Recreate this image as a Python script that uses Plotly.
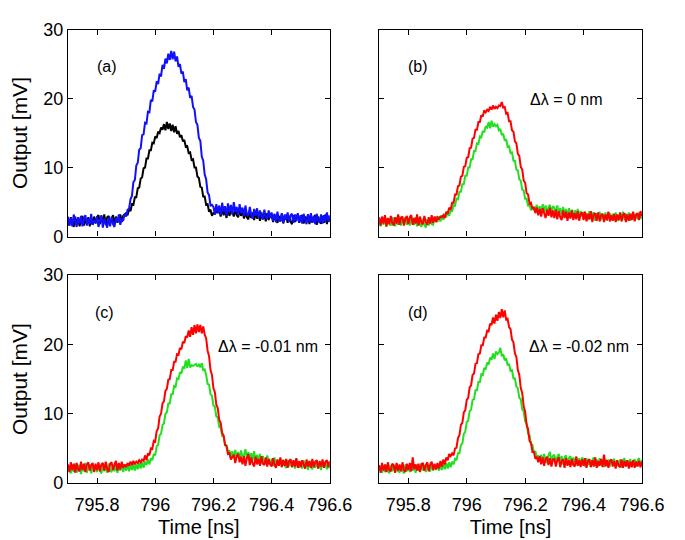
import numpy as np
import plotly.graph_objects as go

# Sampling of the time axis (ns), 0.005 ns steps from 795.7 to 796.6
time_ns = np.round(np.linspace(795.7, 796.6, 181), 3)

# Panel (a)
a_blue = [
    2.9,1.6,2.7,1.5,3.2,2.0,1.4,2.8,1.9,3.0,1.5,2.5,3.1,1.6,2.6,1.8,3.3,1.7,2.4,2.0,
    2.9,1.4,2.4,3.1,1.3,2.6,1.9,1.3,2.8,1.5,2.9,1.8,1.4,2.7,2.1,3.2,1.7,2.6,2.3,3.3,
    2.9,3.9,4.0,5.4,5.9,7.9,8.2,10.3,10.7,12.6,12.8,14.7,14.8,16.5,16.4,18.1,18.0,19.8,19.6,21.2,
    21.0,22.5,22.1,23.6,23.2,24.9,24.3,25.8,25.1,26.5,25.6,26.9,25.7,26.8,25.4,26.1,24.6,25.0,23.6,23.9,
    22.4,22.8,21.2,21.6,20.1,20.4,18.8,18.4,16.6,16.2,14.3,13.9,11.6,11.0,9.0,8.3,6.4,6.0,4.5,4.6,
    4.3,3.2,4.7,3.4,4.5,3.1,4.9,3.6,4.4,3.0,4.8,3.5,4.6,3.2,5.0,3.6,4.3,3.1,4.7,3.4,
    4.2,3.0,4.5,3.2,3.0,4.3,3.1,2.6,4.0,3.0,4.1,2.7,3.8,2.9,2.5,3.9,2.8,2.6,3.8,2.7,
    3.5,2.3,3.3,2.1,3.6,2.5,2.2,3.4,2.0,3.2,2.4,3.5,2.1,3.1,3.3,2.0,3.2,2.2,3.4,2.1,
    3.1,1.9,3.3,2.3,1.8,3.2,2.1,3.4,2.0,3.0,1.8,3.3,2.3,2.0,3.2,1.9,3.1,2.1,3.5,2.2,3.1,
]
a_black = [
    2.5,1.6,2.8,1.9,1.4,2.9,1.7,2.7,1.5,2.5,3.0,1.6,2.6,1.8,2.8,1.5,2.7,1.7,2.9,1.9,
    2.8,3.1,1.8,2.9,2.0,3.2,1.7,2.8,3.0,1.9,2.7,3.1,1.8,2.9,2.0,2.8,3.2,2.1,3.0,3.2,
    3.4,3.1,4.0,3.7,4.7,4.6,5.7,5.7,7.0,7.1,8.4,8.6,9.9,10.0,11.3,11.3,12.5,12.5,13.6,13.5,
    14.5,14.3,15.2,15.0,15.8,15.5,16.3,15.4,16.6,15.6,16.4,15.3,16.2,15.1,16.0,14.9,15.3,14.4,14.7,13.8,
    14.0,13.0,13.1,12.1,12.2,11.1,11.2,10.0,10.0,8.7,8.5,7.2,7.1,5.8,5.8,4.6,4.7,3.6,3.9,3.0,
    3.4,3.3,3.6,3.5,3.8,2.9,4.2,3.1,3.9,2.7,4.0,3.0,3.8,3.6,2.9,3.9,3.1,2.8,4.0,3.0,
    3.8,2.6,3.6,2.8,2.5,3.7,2.7,3.5,2.4,3.6,2.6,3.4,2.3,3.5,2.5,3.3,2.2,3.4,2.4,3.2,
    3.1,2.1,3.2,2.3,2.0,3.0,2.2,3.3,1.9,2.9,3.1,2.0,3.0,2.2,1.8,3.1,2.1,2.9,3.2,2.0,
    2.8,3.1,1.9,2.9,2.1,3.2,1.8,3.0,2.0,2.8,3.1,1.7,2.9,2.1,1.9,3.0,2.0,3.2,1.8,2.9,2.1,
]

# Panel (b)  delta lambda = 0 nm
b_red = [
    2.8,1.6,2.9,1.9,3.1,1.5,2.7,1.8,3.0,2.0,1.6,2.8,1.9,3.2,1.7,2.7,2.9,1.6,2.6,3.0,
    1.8,2.8,3.1,1.7,2.7,1.9,3.2,1.6,2.9,2.0,1.8,3.0,2.1,1.7,2.8,1.9,3.1,2.0,2.9,2.1,
    2.8,2.6,2.9,2.8,3.1,2.7,3.6,3.3,4.2,3.9,4.9,4.9,6.1,6.1,7.3,7.4,8.7,8.8,10.1,10.2,
    11.4,11.5,12.8,12.9,14.2,14.3,15.5,15.5,16.6,16.6,17.6,17.4,18.3,18.0,18.4,18.2,18.8,18.4,19.0,18.5,
    18.8,18.6,19.0,18.9,19.5,18.7,18.8,17.8,17.9,16.7,16.7,15.4,15.2,13.8,13.5,12.0,11.7,10.1,9.7,8.1,
    7.8,6.3,6.1,4.8,4.9,4.0,4.3,3.4,4.2,3.1,4.0,2.9,4.1,3.2,2.7,3.9,3.0,4.2,2.8,3.8,
    2.7,3.9,2.5,3.7,2.8,2.4,3.8,2.7,3.6,2.3,3.5,2.6,3.8,2.4,3.4,2.5,3.7,2.3,3.3,3.5,
    2.4,3.6,2.2,3.3,2.5,3.7,2.1,3.2,3.4,2.3,3.5,2.2,3.1,3.3,2.1,3.2,2.4,3.6,2.2,3.1,
    2.3,3.3,2.1,3.2,2.4,3.5,2.2,3.1,3.4,2.1,3.2,2.3,3.3,2.4,3.6,2.2,3.2,3.4,2.4,3.7,3.0,
]
b_green = [
    2.5,1.5,2.7,1.7,2.9,1.4,2.6,1.8,1.6,2.8,2.5,1.5,2.7,1.7,3.0,1.6,2.6,1.8,2.8,1.7,
    2.6,1.6,2.9,1.9,1.7,2.8,1.5,2.7,1.8,1.4,2.6,1.7,1.3,2.5,1.6,2.7,1.8,1.7,2.6,2.8,
    2.1,2.9,2.2,3.1,2.4,3.3,2.8,3.7,3.0,3.9,3.6,4.6,4.5,5.5,5.4,6.5,6.5,7.6,7.6,8.8,
    8.8,10.0,10.0,11.2,11.2,12.4,12.4,13.5,13.4,14.5,14.4,15.3,15.1,16.0,15.8,16.6,15.7,16.8,15.9,16.3,
    16.0,16.2,15.4,15.6,14.7,14.9,13.9,14.1,13.0,13.1,12.1,12.2,11.0,11.0,9.7,9.6,8.3,8.1,6.8,6.7,
    5.5,5.5,4.4,4.7,3.8,4.2,3.9,4.1,4.6,3.6,4.4,3.4,4.7,3.6,4.5,3.3,4.3,4.6,3.4,4.4,
    4.2,3.2,4.5,3.3,4.1,3.1,4.3,3.2,4.0,2.9,4.1,3.1,3.9,2.8,3.8,3.0,4.0,2.7,3.7,2.9,
    3.6,2.6,3.4,2.4,3.7,2.5,3.3,3.5,2.3,3.4,2.6,3.6,2.4,3.3,2.5,3.5,2.3,3.2,3.4,2.4,
    3.3,2.4,3.5,2.5,2.3,3.4,2.6,3.6,2.4,3.3,2.5,3.5,2.3,3.2,3.4,2.4,3.3,2.5,3.5,2.6,3.3,
]

# Panel (c)  delta lambda = -0.01 nm
c_red = [
    2.7,1.6,3.0,1.9,2.8,1.5,2.9,2.0,1.7,3.1,1.9,2.8,1.6,2.7,3.0,1.8,2.6,2.9,1.6,2.8,
    1.9,3.0,1.7,2.7,2.9,1.8,3.1,2.0,1.6,2.8,3.0,1.9,2.7,3.2,1.8,2.9,2.0,3.1,2.2,2.7,
    2.3,2.9,2.5,3.1,2.6,3.2,2.7,3.1,2.9,3.3,3.0,3.4,3.2,4.0,3.3,4.3,4.0,5.0,4.9,6.1,
    6.0,7.5,7.9,9.6,10.0,11.5,11.8,13.3,13.6,14.9,15.0,16.3,16.3,17.5,17.5,18.6,18.5,19.5,19.3,20.4,
    20.2,21.2,21.0,22.0,21.1,22.5,21.4,22.8,21.6,22.9,21.8,22.8,21.6,22.6,21.4,20.9,19.1,18.3,16.3,15.6,
    13.7,13.1,11.3,10.8,9.1,8.7,7.2,6.9,5.5,5.3,4.2,4.3,3.4,3.7,4.1,2.9,3.9,4.2,3.0,3.8,
    2.7,3.9,2.5,3.6,4.2,2.6,3.7,2.8,2.4,3.8,2.7,3.5,2.5,3.9,2.8,2.6,3.7,2.4,3.5,2.7,
    2.4,3.6,2.6,2.2,3.4,2.5,3.7,2.3,3.3,2.5,3.5,2.2,3.2,3.4,2.3,3.3,2.4,3.6,2.2,3.2,
    2.3,3.3,2.5,2.1,3.4,2.4,3.2,2.2,3.5,2.3,3.1,3.3,2.1,3.2,2.4,3.4,2.2,3.1,3.3,2.3,3.2,
]
c_green = [
    2.3,2.1,1.4,2.6,1.6,2.8,1.5,2.4,2.6,1.3,2.5,1.7,2.9,1.5,2.4,2.7,1.4,2.6,1.7,2.5,
    1.6,2.6,1.8,1.4,2.7,1.7,2.5,1.5,2.8,1.8,1.6,2.6,1.7,2.7,1.5,2.5,1.8,2.8,1.6,2.6,
    1.8,2.7,1.7,2.6,1.9,2.8,1.8,2.7,2.0,2.9,2.1,3.0,2.2,3.1,2.6,3.4,2.7,3.6,3.3,4.2,
    4.0,5.3,5.5,6.9,7.1,8.4,8.6,10.0,10.2,11.5,11.5,12.8,12.8,14.0,13.9,15.1,15.0,16.0,15.8,16.8,
    16.5,17.7,16.6,17.9,16.7,17.0,16.9,17.1,17.2,16.8,17.2,16.7,17.3,16.3,16.4,15.6,14.3,14.2,12.8,12.6,
    11.2,11.0,9.6,9.5,8.1,8.0,6.8,6.7,5.5,5.5,4.5,4.7,3.8,4.6,3.6,4.8,3.7,4.5,3.5,4.7,
    3.8,4.0,4.9,3.5,4.5,3.2,4.3,3.3,4.6,3.1,4.1,3.2,4.2,2.9,3.9,3.1,2.8,4.0,3.0,2.7,
    3.5,2.5,3.7,2.4,3.3,2.6,3.6,2.3,3.4,2.5,2.2,3.3,2.4,3.5,2.3,3.2,2.1,3.4,2.4,2.2,
    3.1,2.1,3.3,2.2,3.0,1.9,3.2,2.3,2.0,3.1,2.2,3.3,2.1,2.9,1.9,3.1,2.2,3.0,2.0,2.9,2.1,
]

# Panel (d)  delta lambda = -0.02 nm
d_red = [
    2.6,1.5,2.9,1.8,2.7,1.6,3.0,1.9,1.7,2.8,2.6,1.5,2.9,1.8,2.7,1.7,3.0,1.9,1.6,2.8,
    1.9,2.9,1.7,3.7,2.0,2.7,1.8,2.8,1.6,2.7,2.9,1.8,2.6,3.0,1.7,2.7,3.1,1.9,2.8,2.0,
    2.9,2.1,3.2,2.4,3.4,2.7,3.7,3.3,4.2,3.9,4.3,4.0,5.0,5.1,6.5,6.9,8.4,8.7,10.2,10.5,
    12.0,12.3,13.8,14.1,15.6,15.8,17.2,17.3,18.6,18.7,19.9,19.9,21.0,21.0,22.0,21.9,23.0,22.8,23.9,23.0,
    24.3,23.4,24.7,23.8,25.1,23.9,24.9,23.6,23.7,22.5,22.2,20.7,20.3,18.7,18.2,16.3,15.6,13.7,13.0,11.1,
    10.3,8.4,7.8,6.1,5.8,4.5,4.5,3.5,3.8,3.0,3.9,2.7,3.7,2.5,3.5,3.8,2.6,3.6,2.4,3.4,
    3.5,2.4,3.3,3.7,2.3,3.2,3.4,2.2,3.6,2.5,3.3,2.3,3.5,2.6,2.4,3.8,2.5,3.3,2.3,3.4,
    2.5,3.6,2.2,3.2,3.4,2.3,3.3,2.4,3.7,2.2,3.2,2.5,3.5,2.3,4.1,2.4,3.3,2.2,3.2,3.4,
    2.4,3.2,2.1,3.3,2.5,2.3,3.4,2.2,3.2,2.4,3.3,2.1,3.1,2.3,3.3,2.2,3.1,2.4,3.2,2.3,3.1,
]
d_green = [
    2.3,2.0,1.5,2.5,1.6,2.7,1.8,1.4,2.6,1.7,2.5,1.5,2.8,1.7,1.6,2.6,1.8,1.4,2.7,1.7,
    2.5,1.6,2.8,1.8,2.6,1.5,2.7,1.9,1.7,2.9,1.8,2.6,1.6,2.8,1.9,1.7,2.7,1.8,2.6,1.9,
    2.6,1.8,2.7,1.9,2.8,2.0,2.9,2.1,3.0,2.3,3.1,2.7,3.5,3.3,4.3,4.3,5.5,5.7,7.1,7.4,
    8.8,9.0,10.4,10.6,12.0,12.1,13.4,13.4,14.6,14.6,15.7,15.6,16.6,16.4,17.4,17.1,18.1,17.8,18.7,17.9,
    19.0,18.6,18.8,19.5,18.3,18.6,17.7,18.0,17.0,17.2,16.2,16.3,15.1,15.1,13.9,13.7,12.3,12.1,10.6,10.4,
    8.9,8.6,7.1,6.9,5.6,5.5,4.4,4.6,3.6,4.0,3.1,4.1,3.0,4.2,3.2,2.9,4.0,4.5,3.1,3.9,
    4.1,2.8,3.8,4.2,2.9,3.9,2.7,3.7,4.0,2.8,3.6,3.9,2.6,3.7,2.9,3.8,2.5,3.6,2.7,3.7,
    3.4,2.4,3.6,2.6,3.5,2.3,3.3,3.7,2.5,3.4,2.4,3.6,2.6,3.3,2.3,3.5,2.5,3.4,2.4,3.3,
    3.2,3.5,2.3,3.3,2.5,3.4,2.2,3.2,3.6,2.4,3.3,2.5,3.5,2.3,3.2,3.4,2.4,3.3,3.6,2.5,3.3,
]

x_ticks = [795.8, 796, 796.2, 796.4, 796.6]
x_tick_labels = ["795.8", "796", "796.2", "796.4", "796.6"]
y_ticks = [0, 10, 20, 30]
panel_labels = ["(a)", "(b)", "(c)", "(d)"]
dl_labels = ["Δλ = 0 nm", "Δλ = -0.01 nm", "Δλ = -0.02 nm"]

BLUE = "#1010ff"
BLACK = "#000000"
RED = "#ff0000"
GREEN = "#20e020"

W, H = 685, 540
def xd(p0, p1):
    return [p0 / W, p1 / W]
def yd(top, bot):
    return [1 - bot / H, 1 - top / H]

domains = {
    1: (xd(62, 333), yd(12, 227)),
    2: (xd(384, 656), yd(12, 227)),
    3: (xd(62, 333), yd(267, 483)),
    4: (xd(384, 656), yd(267, 483)),
}

fig = go.Figure()
traces = [
    (1, a_black, BLACK), (1, a_blue, BLUE),
    (2, b_green, GREEN), (2, b_red, RED),
    (3, c_green, GREEN), (3, c_red, RED),
    (4, d_green, GREEN), (4, d_red, RED),
]
for k, vals, col in traces:
    fig.add_trace(go.Scatter(
        x=time_ns[:len(vals)], y=vals, mode="lines",
        line=dict(color=col, width=2),
        xaxis="x" if k == 1 else f"x{k}",
        yaxis="y" if k == 1 else f"y{k}",
        showlegend=False, hoverinfo="skip",
    ))

font = "Liberation Sans, Arial, sans-serif"
layout = dict(
    width=W, height=H,
    margin=dict(l=0, r=0, t=0, b=0),
    paper_bgcolor="white", plot_bgcolor="white",
    font=dict(family=font, color="black"),
)
for k, (xdom, ydom) in domains.items():
    xs = "xaxis" if k == 1 else f"xaxis{k}"
    ys = "yaxis" if k == 1 else f"yaxis{k}"
    anchor_x = "y" if k == 1 else f"y{k}"
    anchor_y = "x" if k == 1 else f"x{k}"
    bottom = k in (3, 4)
    left = k in (1, 3)
    layout[xs] = dict(
        domain=xdom, anchor=anchor_x, range=[795.7, 796.6],
        tickvals=x_ticks, ticktext=x_tick_labels, showticklabels=bottom,
        ticks="inside", ticklen=5, tickcolor="black", tickwidth=1,
        showline=True, linecolor="black", linewidth=1.2, mirror="ticks",
        showgrid=False, zeroline=False, ticklabelstandoff=5,
        tickfont=dict(size=18, family=font),
        title=dict(text="Time [ns]" if bottom else "", font=dict(size=20, family=font), standoff=6),
    )
    layout[ys] = dict(
        domain=ydom, anchor=anchor_y, range=[0, 30],
        tickvals=y_ticks, showticklabels=left,
        ticks="inside", ticklen=5, tickcolor="black", tickwidth=1,
        showline=True, linecolor="black", linewidth=1.2, mirror="ticks",
        showgrid=False, zeroline=False,
        tickfont=dict(size=18, family=font),
        title=dict(text="Output [mV]" if left else "", font=dict(size=21, family=font), standoff=17),
    )
fig.update_layout(**layout)

ann_pos = [(1, 795.833, 24.7), (2, 795.832, 24.7), (3, 795.827, 24.6), (4, 795.832, 24.6)]
for (k, x, y), lab in zip(ann_pos, panel_labels):
    fig.add_annotation(x=x, y=y, text=lab, showarrow=False,
                       xref="x" if k == 1 else f"x{k}", yref="y" if k == 1 else f"y{k}",
                       font=dict(size=16, family=font))
dl_pos = [(2, 796.34, 19.9), (3, 796.387, 19.7), (4, 796.383, 19.7)]
for (k, x, y), lab in zip(dl_pos, dl_labels):
    fig.add_annotation(x=x, y=y, text=lab, showarrow=False,
                       xref=f"x{k}", yref=f"y{k}",
                       font=dict(size=16, family=font))

fig.write_html("out.html")
